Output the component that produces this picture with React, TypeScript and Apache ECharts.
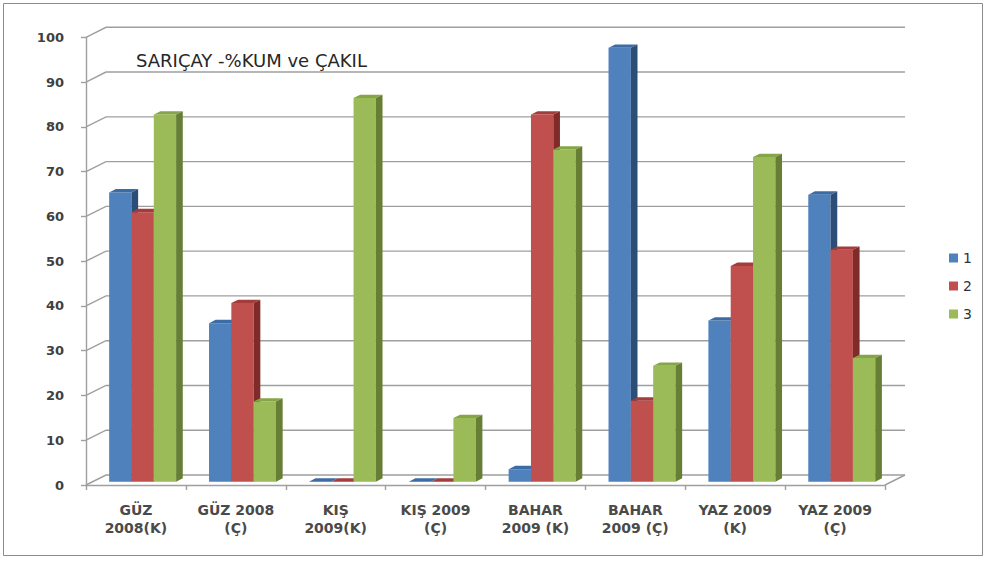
import React, { useEffect, useRef } from "react";
import * as echarts from "echarts";

const categories = [
  "GÜZ\n2008(K)",
  "GÜZ 2008\n(Ç)",
  "KIŞ\n2009(K)",
  "KIŞ 2009\n(Ç)",
  "BAHAR\n2009 (K)",
  "BAHAR\n2009 (Ç)",
  "YAZ 2009\n(K)",
  "YAZ 2009\n(Ç)",
];
const seriesNames = ["1", "2", "3"];
const series1 = [64.6, 35.4, 0, 0, 2.8, 96.9, 36.0, 64.1];
const series2 = [60.2, 39.9, 0, 0, 82.0, 18.1, 48.2, 51.8];
const series3 = [82.0, 17.9, 85.7, 14.2, 74.2, 25.9, 72.5, 27.6];
const yTicks = [0, 10, 20, 30, 40, 50, 60, 70, 80, 90, 100];
const titleText = "SARIÇAY -%KUM ve ÇAKIL";

// styling
const DX = 20;
const DY = -10;
const faces = [
  { front: "#4F81BD", top: "#3D6CA5", side: "#2C4D76" },
  { front: "#C0504D", top: "#A43D3A", side: "#7F2B29" },
  { front: "#9BBB59", top: "#86A548", side: "#667F35" },
];
const GRID_COLOR = "#9f9f9f";

function barRenderer(j: number) {
  return (params: any, api: any) => {
    const idx = api.value(0);
    const v = api.value(1);
    const base = api.coord([idx, 0]);
    const top = api.coord([idx, v]);
    const band = api.size([1, 0])[0];
    const bw = band * 0.2235;
    const dx = DX / 3;
    const dy = DY / 3;
    const x0 = base[0] - band * 0.335 + dx + j * bw;
    const yb = base[1] + dy;
    const yt = top[1] + dy;
    const f = faces[j];
    return {
      type: "group",
      children: [
        {
          type: "rect",
          shape: { x: x0, y: yt, width: bw, height: Math.max(yb - yt, 0) },
          style: { fill: f.front },
        },
        {
          type: "polygon",
          shape: {
            points: [
              [x0, yt],
              [x0 + bw, yt],
              [x0 + bw + dx, yt + dy],
              [x0 + dx, yt + dy],
            ],
          },
          style: { fill: f.top },
        },
        {
          type: "polygon",
          shape: {
            points: [
              [x0 + bw, yt],
              [x0 + bw + dx, yt + dy],
              [x0 + bw + dx, yb + dy],
              [x0 + bw, yb],
            ],
          },
          style: { fill: f.side },
        },
      ],
    };
  };
}

function gridRenderer(params: any, api: any) {
  const cs = params.coordSys;
  const v = api.value(1);
  const y = api.coord([0, v])[1];
  const xl = cs.x;
  const xr = cs.x + cs.width;
  const children: any[] = [
    {
      type: "polyline",
      shape: {
        points: [
          [xl, y],
          [xl + DX, y + DY],
          [xr + DX, y + DY],
        ],
      },
      style: { stroke: GRID_COLOR, lineWidth: 1.4, fill: null },
    },
  ];
  if (v === 0) {
    children.push({
      type: "line",
      shape: { x1: xr, y1: y, x2: xr + DX, y2: y + DY },
      style: { stroke: GRID_COLOR, lineWidth: 1.4 },
    });
  }
  return { type: "group", children };
}

export default function App() {
  const ref = useRef<HTMLDivElement>(null);
  useEffect(() => {
    if (!ref.current) return;
    const chart = echarts.init(ref.current, undefined, { renderer: "svg" });
    const values = [series1, series2, series3];
    chart.setOption({
      animation: false,
      backgroundColor: "#ffffff",
      title: {
        text: titleText,
        left: 131,
        top: 46,
        textStyle: {
          fontFamily: "DejaVu Sans",
          fontSize: 18,
          fontWeight: "normal",
          color: "#262626",
        },
      },
      legend: {
        data: seriesNames,
        orient: "vertical",
        left: 944,
        top: 246,
        itemWidth: 9,
        itemHeight: 9,
        itemGap: 14,
        icon: "rect",
        textStyle: { fontFamily: "DejaVu Sans", fontSize: 14, color: "#333333" },
      },
      graphic: [
        {
          type: "rect",
          shape: { x: 3.5, y: 3.5, width: 979, height: 552 },
          style: { fill: null, stroke: "#8c8c8c", lineWidth: 1 },
          silent: true,
        },
      ],
      grid: { left: 86, right: 100, top: 37.3, bottom: 77 },
      xAxis: {
        type: "category",
        data: categories,
        boundaryGap: true,
        axisLine: { show: true, lineStyle: { color: GRID_COLOR, width: 1.4 } },
        axisTick: { show: true, length: 5, lineStyle: { color: GRID_COLOR, width: 1.4 } },
        axisLabel: {
          margin: 16,
          lineHeight: 18,
          fontFamily: "DejaVu Sans",
          fontSize: 14,
          fontWeight: "bold",
          color: "#4a4a4a",
          interval: 0,
        },
        splitLine: { show: false },
      },
      yAxis: {
        type: "value",
        min: 0,
        max: 100,
        interval: 10,
        axisLine: { show: true, lineStyle: { color: GRID_COLOR, width: 1.4 } },
        axisTick: { show: true, length: 5, lineStyle: { color: GRID_COLOR, width: 1.4 } },
        axisLabel: {
          margin: 22,
          fontFamily: "DejaVu Sans",
          fontSize: 13,
          fontWeight: "bold",
          color: "#404040",
        },
        splitLine: { show: false },
      },
      series: [
        {
          type: "custom",
          name: "grid",
          silent: true,
          z: 1,
          renderItem: gridRenderer,
          data: yTicks.map((v) => [0, v]),
          encode: { x: 0, y: 1 },
        },
        ...values.map((vals, j) => ({
          type: "custom",
          name: seriesNames[j],
          z: 2,
          itemStyle: { color: faces[j].front },
          renderItem: barRenderer(j),
          data: vals.map((v, i) => [i, v]),
          encode: { x: 0, y: 1 },
        })),
      ],
    });
    return () => chart.dispose();
  }, []);
  return (
    <div
      ref={ref}
      style={{ position: "fixed", left: 0, top: 0, width: 985, height: 562 }}
    />
  );
}
